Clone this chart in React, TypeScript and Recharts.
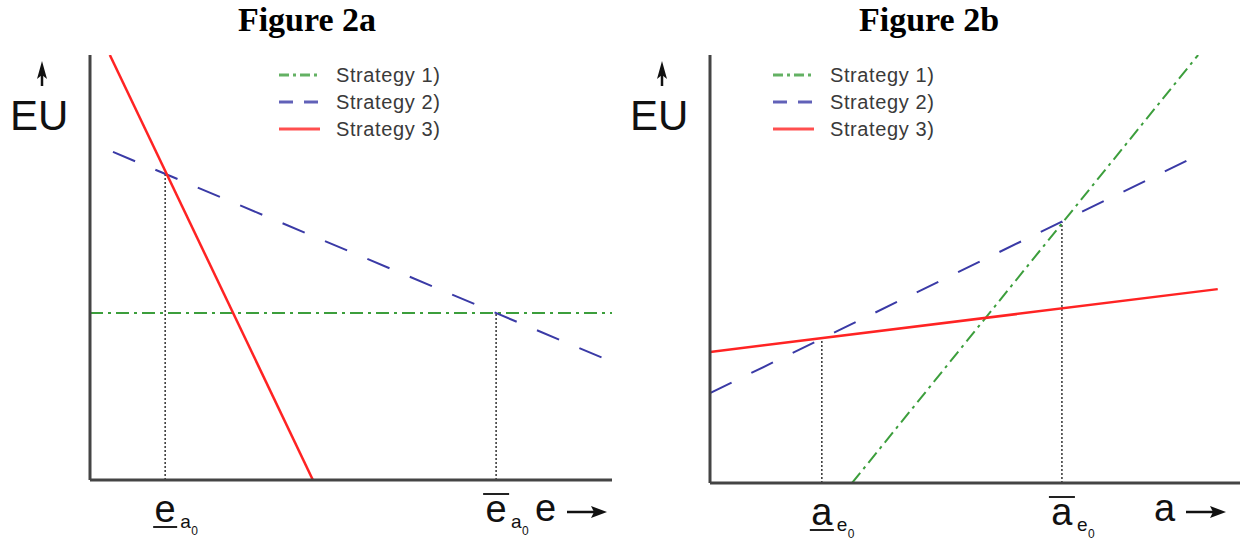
import React from 'react';
import { LineChart, Line, XAxis, YAxis } from 'recharts';

// Figure 2a: expected utility EU against effort e
const effortStrategy1 = [
  { x: 0, y: 39.3 },
  { x: 100, y: 39.3 },
];
const effortStrategy2 = [
  { x: 4.4, y: 77.2 },
  { x: 100, y: 27.8 },
];
const effortStrategy3 = [
  { x: 3.8, y: 100 },
  { x: 42.7, y: 0 },
];
const effortThresholds = [14.4, 77.8];
const effortThresholdLevels = [72.3, 39.3];

// Figure 2b: expected utility EU against a
const aStrategy1 = [
  { x: 26.8, y: 0 },
  { x: 92.1, y: 100 },
];
const aStrategy2 = [
  { x: 0, y: 21.0 },
  { x: 92.1, y: 76.6 },
];
const aStrategy3 = [
  { x: 0, y: 30.6 },
  { x: 95.8, y: 45.3 },
];
const aThresholds = [21.1, 66.4];
const aThresholdLevels = [33.8, 61.0];

const legendLabels = ['Strategy 1)', 'Strategy 2)', 'Strategy 3)'];
const titles = ['Figure 2a', 'Figure 2b'];

const GREEN = '#3c9e3c';
const BLUE = '#3a3aa6';
const RED = '#ff2323';
const AXIS = '#444';
const SANS = '"Liberation Sans", Arial, sans-serif';

const lineStyles = [
  { stroke: GREEN, dash: '13 5 3 5', width: 2 },
  { stroke: BLUE, dash: '24 22', width: 2 },
  { stroke: RED, dash: undefined, width: 2.5 },
];

const legendDash = ['10 4 3 4', '14 11', undefined];

const verticalSegment = (x: number, top: number) => [
  { x, y: 0 },
  { x, y: top },
];

// tick label: underlined (lower bound) or overlined (upper bound) letter with subscript
const makeTick = (letter: string, sub: string) => (props: any) => {
  const { x, y, index } = props;
  const lower = index === 0;
  return (
    <g fontFamily={SANS} fill="#111">
      <text x={x} y={y + 42} fontSize={38} textAnchor="middle">
        {letter}
      </text>
      {lower ? (
        <line x1={x - 12} x2={x + 12} y1={y + 47} y2={y + 47} stroke="#222" strokeWidth={2} />
      ) : (
        <line x1={x - 13} x2={x + 13} y1={y + 14} y2={y + 14} stroke="#222" strokeWidth={2} />
      )}
      <text x={x + 15} y={y + 48} fontSize={19}>
        {sub}
      </text>
      <text x={x + 26} y={y + 55} fontSize={12}>
        0
      </text>
    </g>
  );
};

type Pt = { x: number; y: number };

const Panel = ({
  left,
  width,
  margin,
  series,
  thresholds,
  levels,
  letter,
  sub,
}: {
  left: number;
  width: number;
  margin: { top: number; right: number; bottom: number; left: number };
  series: Pt[][];
  thresholds: number[];
  levels: number[];
  letter: string;
  sub: string;
}) => (
  <div style={{ position: 'absolute', left, top: 0 }}>
    <LineChart width={width} height={545} margin={margin}>
      <XAxis
        type="number"
        dataKey="x"
        domain={[0, 100]}
        allowDataOverflow
        ticks={thresholds}
        interval={0}
        height={2}
        tickSize={0}
        tickMargin={0}
        tickLine={false}
        axisLine={{ stroke: AXIS, strokeWidth: 3 }}
        tick={makeTick(letter, sub)}
      />
      <YAxis
        type="number"
        domain={[0, 100]}
        allowDataOverflow
        width={2}
        tick={false}
        tickLine={false}
        axisLine={{ stroke: AXIS, strokeWidth: 3 }}
      />
      {thresholds.map((t, i) => (
        <Line
          key={`drop-${i}`}
          data={verticalSegment(t, levels[i])}
          dataKey="y"
          stroke="#333"
          strokeWidth={1.5}
          strokeDasharray="2 2"
          dot={false}
          activeDot={false}
          legendType="none"
          isAnimationActive={false}
        />
      ))}
      {series.map((d, i) => (
        <Line
          key={`s-${i}`}
          data={d}
          dataKey="y"
          type="linear"
          stroke={lineStyles[i].stroke}
          strokeWidth={lineStyles[i].width}
          strokeDasharray={lineStyles[i].dash}
          dot={false}
          activeDot={false}
          isAnimationActive={false}
        />
      ))}
    </LineChart>
  </div>
);

const Legend = ({ x, y }: { x: number; y: number }) => (
  <g fontFamily={SANS}>
    {legendLabels.map((label, i) => (
      <g key={label} transform={`translate(${x}, ${y + i * 27})`}>
        <line
          x1={0}
          x2={41}
          y1={0}
          y2={0}
          stroke={lineStyles[i].stroke}
          strokeOpacity={0.8}
          strokeWidth={3}
          strokeDasharray={legendDash[i]}
        />
        <text x={57} y={7} fontSize={20} letterSpacing={0.6} fill="#3a3a3a">
          {label}
        </text>
      </g>
    ))}
  </g>
);

const UpArrowEU = ({ x }: { x: number }) => (
  <g>
    <line x1={x + 32} x2={x + 32} y1={86} y2={72} stroke="#111" strokeWidth={2.5} />
    <path d={`M ${x + 32} 61 L ${x + 37} 79 L ${x + 32} 75 L ${x + 27} 79 Z`} fill="#111" />
    <text x={x} y={130} fontSize={42} fontFamily={SANS} fill="#111">
      EU
    </text>
  </g>
);

const AxisName = ({ x, name }: { x: number; name: string }) => (
  <g>
    <text x={x} y={521} fontSize={38} fontFamily={SANS} fill="#111">
      {name}
    </text>
    <line x1={x + 32} x2={x + 60} y1={512} y2={512} stroke="#111" strokeWidth={2.5} />
    <path d={`M ${x + 72} 512 L ${x + 56} 506 L ${x + 59} 512 L ${x + 56} 518 Z`} fill="#111" />
  </g>
);

export default function App() {
  return (
    <div
      style={{
        position: 'absolute',
        left: 0,
        top: 0,
        width: 1241,
        height: 545,
        background: '#fff',
        overflow: 'hidden',
      }}
    >
      <Panel
        left={0}
        width={620}
        margin={{ top: 55, right: 8, bottom: 63, left: 88 }}
        series={[effortStrategy1, effortStrategy2, effortStrategy3]}
        thresholds={effortThresholds}
        levels={effortThresholdLevels}
        letter="e"
        sub="a"
      />
      <Panel
        left={620}
        width={621}
        margin={{ top: 55, right: 1, bottom: 60, left: 88 }}
        series={[aStrategy1, aStrategy2, aStrategy3]}
        thresholds={aThresholds}
        levels={aThresholdLevels}
        letter="a"
        sub="e"
      />
      <svg
        width={1241}
        height={545}
        style={{ position: 'absolute', left: 0, top: 0, pointerEvents: 'none' }}
      >
        <g fontFamily='"Liberation Serif", "Times New Roman", serif' fontWeight="bold" fontSize={34} fill="#000">
          <text x={307} y={31} textAnchor="middle">
            {titles[0]}
          </text>
          <text x={929} y={31} textAnchor="middle">
            {titles[1]}
          </text>
        </g>
        <UpArrowEU x={10} />
        <UpArrowEU x={630} />
        <Legend x={279} y={75} />
        <Legend x={773} y={75} />
        <AxisName x={535} name="e" />
        <AxisName x={1154} name="a" />
      </svg>
    </div>
  );
}
